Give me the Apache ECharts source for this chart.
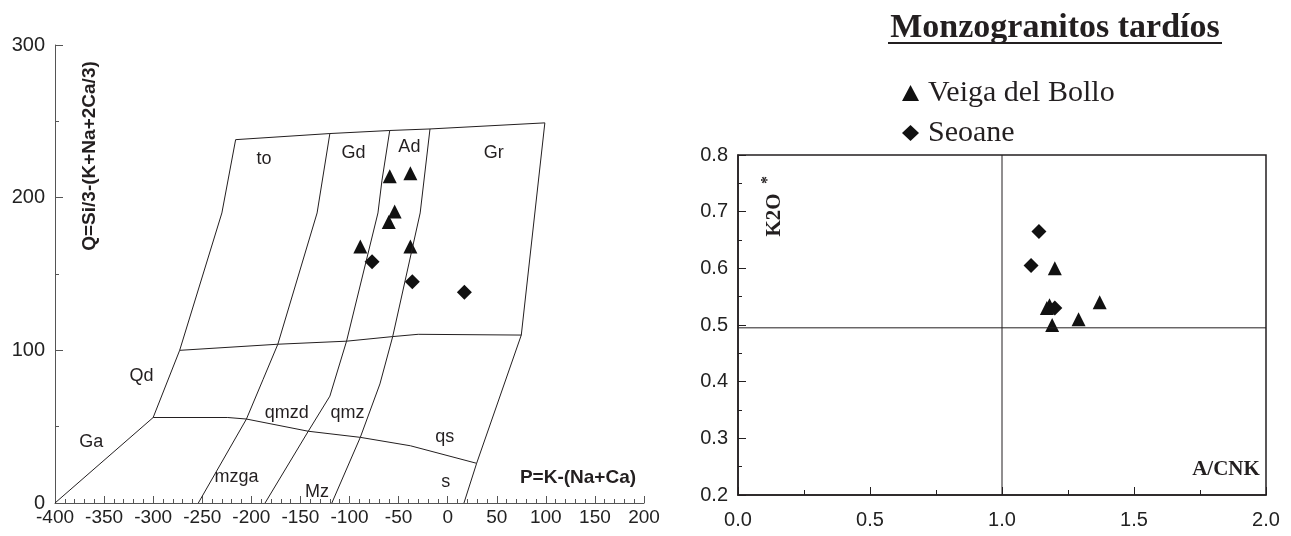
<!DOCTYPE html>
<html>
<head>
<meta charset="utf-8">
<script src="https://cdn.jsdelivr.net/npm/echarts@6/dist/echarts.min.js"></script>
<style>
  html, body { margin: 0; padding: 0; background: #fff; }
  #chart { width: 1291px; height: 536px; }
</style>
</head>
<body>
<div id="chart"></div>
<script>
// ---- P–Q classification diagram: field boundaries as [P, Q] ----
const outerLeft  = [[-216, 238], [-230, 190], [-273, 100], [-300, 56], [-400, 0]];
const outerTop   = [[-216, 238], [-120, 242], [-59, 244], [-18, 245], [99, 249]];
const outerRight = [[99, 249], [75, 110], [29.5, 26], [16.6, 0]];
const divideA    = [[-120, 242], [-133, 190], [-173, 104], [-188, 81], [-205, 55], [-254, 0]];
const divideB    = [[-59, 244], [-67, 211], [-71, 190], [-103, 106], [-120, 70], [-142, 47], [-186, 0]];
const divideC    = [[-18, 245], [-28, 190], [-56, 109], [-69, 78], [-89, 43], [-118, 0]];
const upperBand  = [[-273, 100], [-173, 104], [-103, 106], [-56, 109], [-30, 110.5], [75, 110]];
const lowerBand  = [[-300, 56], [-224, 56], [-205, 55], [-142, 47], [-89, 43], [-38, 37.5], [29.5, 26]];

// field names placed at [P, Q]
const fieldLabels = [
  [-187, 225, 'to'], [-96, 229, 'Gd'], [-39, 233, 'Ad'], [47, 229, 'Gr'],
  [-312, 83, 'Qd'], [-363, 40, 'Ga'], [-164, 59, 'qmzd'], [-102, 59, 'qmz'],
  [-3, 43, 'qs'], [-215, 17, 'mzga'], [-133, 7, 'Mz'], [-2, 14, 's']
];

// samples in P–Q space
const veigaPQ  = [[-59, 214], [-38, 216], [-54, 191], [-60, 184], [-89, 168], [-38, 168]];
const seoanePQ = [[-77, 158], [-36, 145], [17, 138]];

// samples in A/CNK – K2O* space
const veigaAK  = [[1.20, 0.60], [1.18, 0.535], [1.17, 0.53], [1.19, 0.50], [1.29, 0.51], [1.37, 0.54]];
const seoaneAK = [[1.14, 0.665], [1.11, 0.605], [1.20, 0.53]];

// reference lines of the A/CNK – K2O* plot
const acnkLimit = [[1, 0.2], [1, 0.8]];
const k2oLimit  = [[0, 0.495], [2, 0.495]];

const INK = '#231f20';
const MARK = '#111';
const AXIS = '#555';
const SANS = '"Liberation Sans", Arial, sans-serif';
const SERIF = '"Liberation Serif", "Times New Roman", serif';

function boundary(data) {
  return {
    type: 'line', xAxisIndex: 0, yAxisIndex: 0, data: data,
    symbol: 'none', silent: true,
    lineStyle: { color: INK, width: 1 }
  };
}

function refLine(data) {
  return {
    type: 'line', xAxisIndex: 1, yAxisIndex: 1, data: data,
    symbol: 'none', silent: true,
    lineStyle: { color: INK, width: 1 }
  };
}

function samples(name, data, symbol, size, axisIdx) {
  return {
    name: name, type: 'scatter', xAxisIndex: axisIdx, yAxisIndex: axisIdx,
    data: data, symbol: symbol, symbolSize: size,
    itemStyle: { color: MARK, opacity: 1 }
  };
}

const tickLabel = { fontSize: 20, color: '#222', fontFamily: SANS };

const option = {
  animation: false,
  backgroundColor: '#fff',
  grid: [
    { left: 55, top: 45, width: 589, height: 458 },
    { left: 738, top: 155, width: 528, height: 340, show: true, borderColor: INK, borderWidth: 1.5 }
  ],
  xAxis: [
    {
      gridIndex: 0, type: 'value', min: -400, max: 200, interval: 50,
      axisLine: { onZero: false, lineStyle: { color: AXIS, width: 1 } },
      axisTick: { inside: true, length: 7, lineStyle: { color: AXIS } },
      minorTick: { show: true, splitNumber: 5, length: 4, lineStyle: { color: AXIS } },
      splitLine: { show: false },
      axisLabel: Object.assign({ margin: 5 }, tickLabel, { fontSize: 19 })
    },
    {
      gridIndex: 1, type: 'value', min: 0, max: 2, interval: 0.5,
      axisLine: { onZero: false, lineStyle: { color: INK, width: 1.5 } },
      axisTick: { inside: true, length: 8, lineStyle: { color: INK } },
      minorTick: { show: true, splitNumber: 2, length: 5, lineStyle: { color: INK } },
      splitLine: { show: false },
      axisLabel: Object.assign({ margin: 15, formatter: v => v.toFixed(1) }, tickLabel)
    }
  ],
  yAxis: [
    {
      gridIndex: 0, type: 'value', min: 0, max: 300, interval: 100,
      axisLine: { show: true, onZero: false, lineStyle: { color: AXIS, width: 1 } },
      axisTick: { show: true, inside: true, length: 8, lineStyle: { color: AXIS } },
      minorTick: { show: true, splitNumber: 2, length: 4, lineStyle: { color: AXIS } },
      splitLine: { show: false },
      axisLabel: Object.assign({ margin: 10 }, tickLabel)
    },
    {
      gridIndex: 1, type: 'value', min: 0.2, max: 0.8, interval: 0.1,
      axisLine: { show: true, onZero: false, lineStyle: { color: INK, width: 1.5 } },
      axisTick: { show: true, inside: true, length: 8, lineStyle: { color: INK } },
      minorTick: { show: true, splitNumber: 2, length: 4, lineStyle: { color: INK } },
      splitLine: { show: false },
      axisLabel: Object.assign({ margin: 10, formatter: v => v.toFixed(1) }, tickLabel)
    }
  ],
  legend: {
    orient: 'vertical', left: 897, top: 73,
    itemWidth: 17, itemHeight: 16, itemGap: 10,
    textStyle: { fontFamily: SERIF, fontSize: 30, color: INK, padding: [0, 0, 0, 4] },
    data: [
      { name: 'Veiga del Bollo', icon: 'triangle' },
      { name: 'Seoane', icon: 'diamond' }
    ]
  },
  graphic: [
    {
      type: 'text', x: 1055, y: 28,
      style: { text: 'Monzogranitos tardíos', font: 'bold 34px ' + SERIF, fill: INK,
               textAlign: 'center', textVerticalAlign: 'middle' }
    },
    {
      type: 'line', shape: { x1: 888, y1: 43, x2: 1222, y2: 43 },
      style: { stroke: INK, lineWidth: 2 }
    },
    {
      type: 'text', x: 90, y: 156, rotation: Math.PI / 2,
      style: { text: 'Q=Si/3-(K+Na+2Ca/3)', font: 'bold 19px ' + SANS, fill: INK,
               textAlign: 'center', textVerticalAlign: 'middle' }
    },
    {
      type: 'text', x: 578, y: 478,
      style: { text: 'P=K-(Na+Ca)', font: 'bold 19px ' + SANS, fill: INK,
               textAlign: 'center', textVerticalAlign: 'middle' }
    },
    {
      type: 'text', x: 775, y: 215, rotation: Math.PI / 2,
      style: { text: 'K2O', font: 'bold 21px ' + SERIF, fill: INK,
               textAlign: 'center', textVerticalAlign: 'middle' }
    },
    {
      type: 'text', x: 768, y: 180, rotation: Math.PI / 2,
      style: { text: '*', font: 'bold 16px ' + SERIF, fill: INK,
               textAlign: 'center', textVerticalAlign: 'middle' }
    },
    {
      type: 'text', x: 1226, y: 470,
      style: { text: 'A/CNK', font: 'bold 21px ' + SERIF, fill: INK,
               textAlign: 'center', textVerticalAlign: 'middle' }
    }
  ],
  series: [
    boundary(outerLeft), boundary(outerTop), boundary(outerRight),
    boundary(divideA), boundary(divideB), boundary(divideC),
    boundary(upperBand), boundary(lowerBand),
    {
      type: 'scatter', xAxisIndex: 0, yAxisIndex: 0, silent: true,
      data: fieldLabels, symbolSize: 1,
      itemStyle: { color: 'rgba(0,0,0,0)' },
      label: {
        show: true, position: 'inside', formatter: p => p.value[2],
        fontSize: 18, color: INK, fontFamily: SANS, opacity: 1
      }
    },
    samples('Veiga del Bollo', veigaPQ, 'triangle', [14, 14], 0),
    samples('Seoane', seoanePQ, 'diamond', [15, 15], 0),
    refLine(acnkLimit), refLine(k2oLimit),
    samples('Veiga del Bollo', veigaAK, 'triangle', [14, 14], 1),
    samples('Seoane', seoaneAK, 'diamond', [15, 15], 1)
  ]
};

const chart = echarts.init(document.getElementById('chart'), null, { renderer: 'canvas' });
chart.setOption(option);
</script>
</body>
</html>
